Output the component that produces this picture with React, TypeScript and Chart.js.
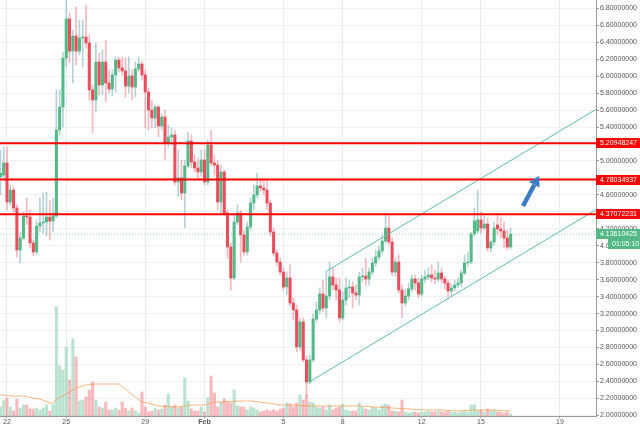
import { useEffect, useRef } from 'react';
import { Chart, registerables } from 'chart.js';

Chart.register(...registerables);

// 4-hour candles; index 0 = Jan 22 00:00, first candle is Jan 21 16:00
const FIRST_CANDLE = -2;
const CANDLES_PER_DAY = 6;

const opens = [
  4.811, 4.834, 4.976, 4.516, 4.657, 4.445, 3.950, 4.091, 4.351, 4.339,
  4.032, 3.926, 4.233, 4.268, 4.280, 4.339, 4.292, 4.351, 5.365, 5.636,
  6.214, 6.674, 6.296, 6.473, 6.296, 6.450, 6.462, 6.391, 5.837, 5.719,
  6.167, 5.896, 6.167, 5.919, 5.848, 6.014, 6.190, 6.096, 6.061, 5.884,
  6.002, 5.872, 6.084, 6.143, 6.014, 5.813, 5.601, 5.507, 5.636, 5.412,
  5.518, 5.212, 5.282, 5.306, 4.752, 4.799, 4.622, 4.940, 5.235, 4.988,
  4.917, 4.870, 5.011, 4.752, 5.188, 4.976, 4.952, 4.516, 4.870, 4.386,
  3.985, 3.620, 4.280, 4.386, 4.127, 3.926, 4.221, 4.504, 4.599, 4.705,
  4.681, 4.657, 4.504, 4.162, 3.914, 3.808, 3.690, 3.514, 3.620, 3.325,
  3.242, 2.806, 3.101, 2.653, 2.393, 2.653, 3.136, 3.242, 3.431, 3.266,
  3.407, 3.632, 3.537, 3.478, 3.148, 3.360, 3.502, 3.514, 3.443, 3.419,
  3.632, 3.643, 3.608, 3.690, 3.797, 3.867, 3.938, 4.056, 4.209, 4.044,
  3.690, 3.808, 3.478, 3.325, 3.407, 3.490, 3.608, 3.561, 3.431, 3.608,
  3.632, 3.655, 3.620, 3.608, 3.679, 3.608, 3.561, 3.466, 3.502, 3.537,
  3.561, 3.679, 3.797, 3.808, 4.139, 4.174, 4.304, 4.209, 4.257, 3.973,
  4.044, 4.245, 4.198, 4.174, 4.091, 3.985,
];

const highs = [
  5.129, 5.164, 5.164, 4.716, 4.693, 4.481, 4.162, 4.398, 4.563, 4.422,
  4.068, 4.304, 4.563, 4.622, 4.634, 4.540, 4.563, 5.837, 5.837, 6.285,
  6.950, 6.745, 6.544, 6.815, 6.662, 6.662, 6.839, 6.485, 5.896, 6.391,
  6.273, 6.308, 6.426, 6.072, 6.072, 6.226, 6.226, 6.226, 6.214, 6.226,
  6.072, 6.167, 6.226, 6.179, 6.072, 5.860, 5.719, 5.660, 5.660, 5.554,
  5.601, 5.424, 5.389, 5.365, 5.129, 5.011, 5.011, 5.341, 5.306, 5.070,
  5.035, 5.129, 5.129, 5.247, 5.365, 5.070, 5.011, 4.952, 4.893, 4.422,
  4.032, 4.363, 4.481, 4.422, 4.186, 4.280, 4.563, 4.716, 4.858, 4.775,
  4.787, 4.775, 4.540, 4.209, 3.950, 3.855, 3.738, 3.690, 3.773, 3.384,
  3.301, 3.148, 3.148, 2.700, 2.712, 3.195, 3.337, 3.502, 3.596, 3.702,
  3.808, 3.738, 3.620, 3.620, 3.455, 3.620, 3.596, 3.573, 3.537, 3.690,
  3.738, 3.855, 3.738, 3.855, 3.950, 3.997, 4.127, 4.386, 4.363, 4.091,
  3.855, 3.891, 3.537, 3.478, 3.561, 3.655, 3.655, 3.620, 3.655, 3.714,
  3.738, 3.773, 3.714, 3.808, 3.738, 3.643, 3.596, 3.549, 3.596, 3.620,
  3.714, 3.891, 3.926, 4.162, 4.445, 4.657, 4.398, 4.351, 4.327, 4.068,
  4.280, 4.386, 4.327, 4.280, 4.186, 4.209,
];

const lows = [
  4.599, 4.775, 4.422, 4.481, 4.398, 3.867, 3.797, 4.068, 4.245, 3.973,
  3.879, 3.903, 4.162, 4.150, 4.115, 4.068, 4.162, 4.327, 5.306, 5.400,
  6.108, 6.155, 5.919, 6.131, 6.249, 6.108, 6.332, 5.719, 5.330, 5.577,
  5.778, 5.778, 5.695, 5.801, 5.766, 5.813, 6.049, 6.014, 5.754, 5.801,
  5.719, 5.754, 6.049, 5.955, 5.389, 5.365, 5.389, 5.389, 5.282, 5.365,
  5.011, 5.164, 5.188, 4.716, 4.575, 4.540, 4.209, 4.917, 4.917, 4.870,
  4.799, 4.823, 4.716, 4.716, 4.940, 4.834, 4.422, 4.363, 4.351, 3.855,
  3.478, 3.596, 4.245, 3.808, 3.891, 3.891, 4.186, 4.422, 4.563, 4.634,
  4.599, 4.422, 4.115, 3.879, 3.761, 3.655, 3.478, 3.419, 3.290, 3.124,
  2.747, 2.771, 2.629, 2.240, 2.370, 2.629, 3.101, 3.195, 3.219, 3.148,
  3.360, 3.478, 3.360, 3.101, 3.124, 3.301, 3.384, 3.266, 3.360, 3.301,
  3.573, 3.537, 3.537, 3.655, 3.761, 3.832, 3.903, 4.032, 4.009, 3.643,
  3.643, 3.443, 3.148, 3.290, 3.360, 3.455, 3.478, 3.384, 3.407, 3.561,
  3.596, 3.573, 3.549, 3.573, 3.561, 3.490, 3.384, 3.407, 3.466, 3.502,
  3.514, 3.655, 3.761, 3.785, 4.115, 4.150, 4.150, 4.186, 3.938, 3.926,
  4.009, 4.127, 4.091, 3.973, 3.950, 3.962,
];

const closes = [
  4.858, 4.976, 4.516, 4.657, 4.445, 3.950, 4.091, 4.351, 4.339, 4.032,
  3.926, 4.233, 4.268, 4.280, 4.339, 4.292, 4.351, 5.365, 5.636, 6.214,
  6.674, 6.296, 6.473, 6.296, 6.450, 6.462, 6.391, 5.837, 5.719, 6.167,
  5.896, 6.167, 5.919, 5.848, 6.014, 6.190, 6.096, 6.061, 5.884, 6.002,
  5.872, 6.084, 6.143, 6.014, 5.813, 5.601, 5.507, 5.636, 5.412, 5.518,
  5.212, 5.282, 5.306, 4.752, 4.799, 4.622, 4.940, 5.235, 4.988, 4.917,
  4.870, 5.011, 4.752, 5.188, 4.976, 4.952, 4.516, 4.870, 4.386, 3.985,
  3.620, 4.280, 4.386, 4.127, 3.926, 4.221, 4.504, 4.599, 4.705, 4.681,
  4.657, 4.504, 4.162, 3.914, 3.808, 3.690, 3.514, 3.620, 3.325, 3.242,
  2.806, 3.101, 2.653, 2.393, 2.653, 3.136, 3.242, 3.431, 3.266, 3.407,
  3.632, 3.537, 3.478, 3.148, 3.360, 3.502, 3.514, 3.443, 3.419, 3.632,
  3.643, 3.608, 3.690, 3.797, 3.867, 3.938, 4.056, 4.209, 4.044, 3.690,
  3.808, 3.478, 3.325, 3.407, 3.490, 3.608, 3.561, 3.431, 3.608, 3.632,
  3.655, 3.620, 3.608, 3.679, 3.608, 3.561, 3.466, 3.502, 3.537, 3.561,
  3.679, 3.797, 3.808, 4.139, 4.292, 4.304, 4.209, 4.257, 3.973, 4.044,
  4.209, 4.198, 4.174, 4.091, 3.985, 4.13610425,
];

// volume (thousands)
const volumes = [
  9, 16, 18, 9, 5, 17, 8, 11, 11, 7,
  7, 8, 6, 8, 11, 5, 11, 109, 50, 46,
  69, 36, 77, 59, 15, 16, 19, 26, 34, 16,
  9, 8, 14, 6, 6, 8, 6, 14, 8, 5,
  8, 5, 3, 24, 9, 4, 5, 8, 6, 7,
  11, 22, 9, 11, 8, 9, 38, 15, 7, 5,
  5, 9, 4, 18, 40, 23, 9, 14, 17, 14,
  13, 26, 10, 9, 9, 6, 9, 8, 6, 4,
  5, 6, 5, 6, 5, 7, 8, 13, 12, 9,
  13, 21, 16, 21, 14, 13, 9, 8, 9, 6,
  11, 6, 8, 9, 12, 6, 5, 5, 5, 13,
  9, 7, 6, 9, 8, 6, 11, 12, 11, 5,
  5, 4, 16, 4, 3, 4, 4, 3, 4, 4,
  5, 4, 4, 5, 4, 4, 5, 4, 4, 3,
  4, 5, 4, 11, 11, 5, 6, 4, 7, 5,
  6, 4, 4, 3, 4, 2,
];

// volume moving average, candle index -> value
const volMaIdx = [-2, 2, 5, 8, 10, 13, 14, 15, 17, 19, 21, 24, 26, 34, 37, 41, 43, 46, 52, 56, 60, 63, 66, 70, 74, 79, 83, 86, 92, 102, 107, 112, 117, 122, 127, 132, 137, 142, 148, 153];
const volMaVal = [21, 20, 20, 18, 17, 13, 12.5, 17, 20, 24, 28, 31, 32, 32, 24, 14, 13, 10, 9, 11, 11, 14, 14, 15, 15, 13, 11, 11, 10, 10, 10, 9, 8, 7, 6, 6, 5, 6, 6, 5];

// x ticks: days after Jan 22
const xTickDays = [0, 3, 7, 10, 14, 17, 21, 24, 28];
const xTickLabels = ['22', '25', '29', 'Feb', '5', '8', '12', '15', '19'];
const yTicks = [2.0, 2.2, 2.4, 2.6, 2.8, 3.0, 3.2, 3.4, 3.6, 3.8, 4.0, 4.2, 4.4, 4.6, 4.8, 5.0, 5.2, 5.4, 5.6, 5.8, 6.0, 6.2, 6.4, 6.6, 6.8];

const levels = [5.20948247, 4.78034937, 4.37072231];
const lastPrice = 4.13610425;
const countdown = '01:05:10';

// drawings: [day, price]
const channelUpper = [[16.19, 3.703], [29.82, 5.608]];
const channelLower = [[15.34, 2.398], [29.82, 4.425]];
const arrowFrom = [26.13, 4.469];
const arrowTo = [26.94, 4.823];

const X_MIN = -0.3544;
const X_MAX = 29.823;
const Y_MIN = 1.9922;
const Y_MAX = 6.8979;
const VOL_AXIS_MAX = 416;

const UP = '#53b987';
const DOWN = '#eb4d5c';
const UP_WICK = 'rgba(110,165,175,0.5)';
const DOWN_WICK = 'rgba(235,77,92,0.4)';
const UP_VOL = 'rgba(83,185,135,0.4)';
const DOWN_VOL = 'rgba(235,77,92,0.4)';
const VOL_MA_COLOR = 'rgba(247,150,70,0.7)';
const CHANNEL = 'rgb(95,190,170)';
const LEVEL = '#ff0000';
const ARROW = '#3b7dc4';
const GRID_H = '#eef2f5';
const GRID_V = '#e6eef5';
const AXIS_COLOR = '#9a9a9a';
const TICK_COLOR = '#555555';
const FONT = "'Liberation Sans', Arial, sans-serif";

export default function App() {
  const canvasRef = useRef<HTMLCanvasElement | null>(null);

  useEffect(() => {
    document.body.style.margin = '0';
    const canvas = canvasRef.current;
    if (!canvas) return;

    const times = opens.map((_, i) => (i + FIRST_CANDLE) / CANDLES_PER_DAY);
    const isUp = opens.map((o, i) => closes[i] >= o);

    const overlay = {
      id: 'overlay',
      afterDatasetsDraw(chart: any) {
        const { ctx, scales } = chart;
        const x = scales.x;
        const y = scales.y;
        const x1 = x.getPixelForValue(arrowFrom[0]);
        const y1 = y.getPixelForValue(arrowFrom[1]);
        const x2 = x.getPixelForValue(arrowTo[0]);
        const y2 = y.getPixelForValue(arrowTo[1]);
        const ang = Math.atan2(y2 - y1, x2 - x1);
        const headLen = 10;
        const headW = 6;
        const bx = x2 - headLen * Math.cos(ang);
        const by = y2 - headLen * Math.sin(ang);
        ctx.save();
        ctx.strokeStyle = ARROW;
        ctx.fillStyle = ARROW;
        ctx.lineWidth = 4.5;
        ctx.beginPath();
        ctx.moveTo(x1, y1);
        ctx.lineTo(bx, by);
        ctx.stroke();
        ctx.beginPath();
        ctx.moveTo(x2, y2);
        ctx.lineTo(bx + headW * Math.sin(ang), by - headW * Math.cos(ang));
        ctx.lineTo(bx - headW * Math.sin(ang), by + headW * Math.cos(ang));
        ctx.closePath();
        ctx.fill();
        ctx.restore();
      },
      afterDraw(chart: any) {
        const { ctx, chartArea, scales } = chart;
        const y = scales.y;
        const right = chart.width;
        const tag = (yPix: number, text: string, bg: string, fg: string, x0: number) => {
          const yc = Math.round(yPix);
          ctx.fillStyle = bg;
          ctx.fillRect(x0, yc - 5, right - x0, 10);
          ctx.fillStyle = fg;
          ctx.font = `7px ${FONT}`;
          ctx.textBaseline = 'middle';
          ctx.textAlign = 'left';
          ctx.fillText(text, x0 + 4, yc + 0.5);
        };
        ctx.save();
        levels.forEach((v) => tag(y.getPixelForValue(v), v.toFixed(8), LEVEL, '#ffffff', chartArea.right));
        const py = y.getPixelForValue(lastPrice);
        tag(py, lastPrice.toFixed(8), UP, '#ffffff', chartArea.right);
        tag(py + 10, countdown, UP, '#ffffff', chartArea.right + 12);
        ctx.restore();
      },
    };

    const lineDs = (pts: number[][], color: string, width: number, order: number, dash: number[] = []) => ({
      type: 'line',
      yAxisID: 'y',
      data: pts.map((p) => ({ x: p[0], y: p[1] })),
      borderColor: color,
      borderWidth: width,
      borderDash: dash,
      pointRadius: 0,
      tension: 0,
      order,
    });

    const chart = new Chart(canvas, {
      type: 'bar',
      data: {
        datasets: [
          {
            type: 'bar',
            label: 'Volume',
            yAxisID: 'vol',
            data: times.map((t, i) => ({ x: t, y: volumes[i] })),
            backgroundColor: isUp.map((u) => (u ? UP_VOL : DOWN_VOL)),
            barThickness: 2.4,
            grouped: false,
            order: 10,
          },
          {
            type: 'line',
            label: 'Vol MA',
            yAxisID: 'vol',
            data: volMaIdx.map((k, i) => ({ x: k / CANDLES_PER_DAY, y: volMaVal[i] })),
            borderColor: VOL_MA_COLOR,
            borderWidth: 1,
            pointRadius: 0,
            tension: 0,
            order: 9,
          },
          {
            type: 'bar',
            label: 'Wicks',
            yAxisID: 'y',
            data: times.map((t, i) => ({ x: t, y: [lows[i], highs[i]] })),
            backgroundColor: isUp.map((u) => (u ? UP_WICK : DOWN_WICK)),
            barThickness: 1,
            grouped: false,
            order: 8,
          },
          {
            type: 'bar',
            label: 'Bodies',
            yAxisID: 'y',
            data: times.map((t, i) => ({ x: t, y: [opens[i], closes[i]] })),
            backgroundColor: isUp.map((u) => (u ? UP : DOWN)),
            barThickness: 2.4,
            minBarLength: 1,
            grouped: false,
            order: 7,
          },
          lineDs([[X_MIN, lastPrice], [X_MAX, lastPrice]], 'rgba(83,185,135,0.6)', 1, 6, [1, 2]),
          lineDs(channelUpper, CHANNEL, 1, 3),
          lineDs(channelLower, CHANNEL, 1, 3),
          ...levels.map((v) => lineDs([[X_MIN, v], [X_MAX, v]], LEVEL, 2, 1)),
        ] as any,
      },
      options: {
        responsive: false,
        animation: false,
        devicePixelRatio: 1,
        events: [],
        layout: { padding: 0 },
        plugins: {
          legend: { display: false },
          tooltip: { enabled: false },
          title: { display: false },
        },
        scales: {
          x: {
            type: 'linear',
            position: 'bottom',
            min: X_MIN,
            max: X_MAX,
            offset: false,
            grid: { color: GRID_V, tickLength: 2, tickColor: AXIS_COLOR, offset: false },
            border: { color: AXIS_COLOR, width: 1 },
            afterBuildTicks: (s: any) => {
              s.ticks = xTickDays.map((v) => ({ value: v }));
            },
            afterFit: (s: any) => {
              s.height = 12;
              s.paddingLeft = 0;
              s.paddingRight = 0;
            },
            ticks: {
              autoSkip: false,
              maxRotation: 0,
              minRotation: 0,
              padding: 0,
              color: TICK_COLOR,
              font: (c: any) => ({
                family: FONT,
                size: 7,
                weight: c.tick && xTickLabels[xTickDays.indexOf(c.tick.value)] === 'Feb' ? 'bold' : 'normal',
              }),
              callback: (v: any) => {
                const i = xTickDays.indexOf(Number(v));
                return i >= 0 ? xTickLabels[i] : '';
              },
            },
          },
          y: {
            type: 'linear',
            position: 'right',
            min: Y_MIN,
            max: Y_MAX,
            grid: { color: GRID_H, tickLength: 3, tickColor: AXIS_COLOR },
            border: { color: AXIS_COLOR, width: 1 },
            afterBuildTicks: (s: any) => {
              s.ticks = yTicks.map((v) => ({ value: v }));
            },
            afterFit: (s: any) => {
              s.width = 44;
              s.paddingTop = 0;
              s.paddingBottom = 0;
            },
            ticks: {
              padding: 1,
              color: TICK_COLOR,
              font: { family: FONT, size: 7 },
              callback: (v: any) => Number(v).toFixed(8),
            },
          },
          vol: {
            type: 'linear',
            display: false,
            min: 0,
            max: VOL_AXIS_MAX,
          },
        },
      } as any,
      plugins: [overlay as any],
    });

    return () => chart.destroy();
  }, []);

  return (
    <div style={{ width: 640, height: 428 }}>
      <canvas ref={canvasRef} width={640} height={428} style={{ display: 'block', width: 640, height: 428 }} />
    </div>
  );
}
